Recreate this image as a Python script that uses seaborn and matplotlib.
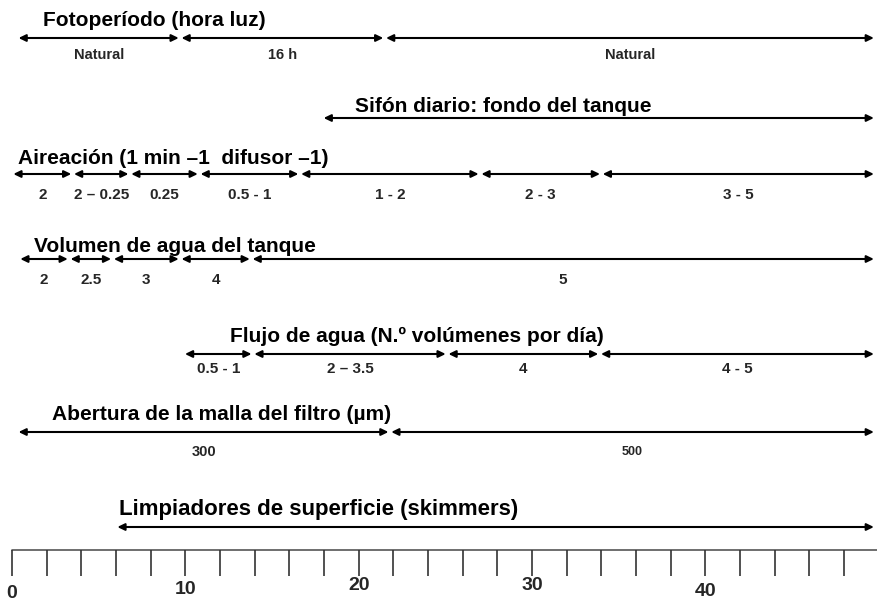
import numpy as np
import pandas as pd
import matplotlib
matplotlib.use("Agg")
import matplotlib.pyplot as plt
import seaborn as sns

# segment edges in days (x axis) and the label under each segment
foto_edges = [0.3, 9.7, 21.5, 49.8]
foto_labels = ["Natural", "16 h", "Natural"]

sifon_edges = [17.9, 49.8]
sifon_labels = [""]

aire_edges = [0.0, 3.5, 6.8, 10.8, 16.6, 27.0, 34.0, 49.8]
aire_labels = ["2", "2 \u2013 0.25", "0.25", "0.5 - 1", "1 - 2", "2 - 3", "3 - 5"]

vol_edges = [0.4, 3.3, 5.8, 9.7, 13.8, 49.8]
vol_labels = ["2", "2.5", "3", "4", "5"]

flujo_edges = [9.9, 13.9, 25.1, 33.9, 49.8]
flujo_labels = ["0.5 - 1", "2 \u2013 3.5", "4", "4 - 5"]

malla_edges = [0.3, 21.8, 49.8]
malla_labels = ["300", "500"]

skim_edges = [6.0, 49.8]
skim_labels = [""]

titles = ["Fotoperíodo (hora luz)",
          "Sifón diario: fondo del tanque",
          "Aireación (1 min \u20131  difusor \u20131)",
          "Volumen de agua del tanque",
          "Flujo de agua (N.º volúmenes por día)",
          "Abertura de la malla del filtro (µm)",
          "Limpiadores de superficie (skimmers)"]

ruler_ticks = np.arange(0, 50, 2)
ruler_labels = [0, 10, 20, 30, 40]

# layout: (edges, labels, title x, title y, title size, arrow y, label y, label sizes)
rows = [
    (foto_edges, foto_labels, 1.8, 20, 15, 38, 55, [10.5] * 3),
    (sifon_edges, sifon_labels, 19.8, 106, 15, 118, 0, [10.5]),
    (aire_edges, aire_labels, 0.35, 158, 15, 174, 195, [11] * 7),
    (vol_edges, vol_labels, 1.3, 246, 15, 259, 280, [11] * 5),
    (flujo_edges, flujo_labels, 12.6, 336, 15, 354, 369, [11] * 4),
    (malla_edges, malla_labels, 2.3, 414, 15, 432, 452, [10.5, 9]),
    (skim_edges, skim_labels, 6.2, 510, 16, 527, 0, [10.5]),
]
ruler_label_y = [594, 590, 586, 586, 592]

sns.set_theme(style="white")
plt.rcParams["font.family"] = ["Liberation Sans", "DejaVu Sans"]

fig = plt.figure(figsize=(8.77, 6.01), dpi=100)
ax = fig.add_axes([0, 0, 1, 1])
ax.set_xlim(-0.69, 49.9)
ax.set_ylim(601, 0)
ax.axis("off")

for (edges, labels, tx, ty, tfs, ay, ly, lsizes), title in zip(rows, titles):
    ax.text(tx, ty, title, ha="left", va="center", fontsize=tfs,
            fontweight="bold", color="black")
    for x0, x1, lab, fs in zip(edges[:-1], edges[1:], labels, lsizes):
        ax.annotate("", xy=(x1, ay), xytext=(x0, ay),
                    arrowprops=dict(arrowstyle="<|-|>,head_length=0.35,head_width=0.17",
                                    lw=1.5, color="black", shrinkA=1.0, shrinkB=1.0))
        if lab:
            ax.text((x0 + x1) / 2, ly, lab, ha="center", va="center",
                    fontsize=fs, fontweight="bold")

# ruler at the bottom
ruler = pd.DataFrame({"x": [0, 49.9], "y": [550, 550]})
sns.lineplot(data=ruler, x="x", y="y", ax=ax, color="#555555", lw=1.2)
ax.vlines(ruler_ticks, 550, 576, color="#333333", lw=1.2)
for v, yy in zip(ruler_labels, ruler_label_y):
    ax.text(v, yy, str(v), ha="center", va="center", fontsize=14,
            fontweight="bold")

fig.savefig("out.png", dpi=100)
